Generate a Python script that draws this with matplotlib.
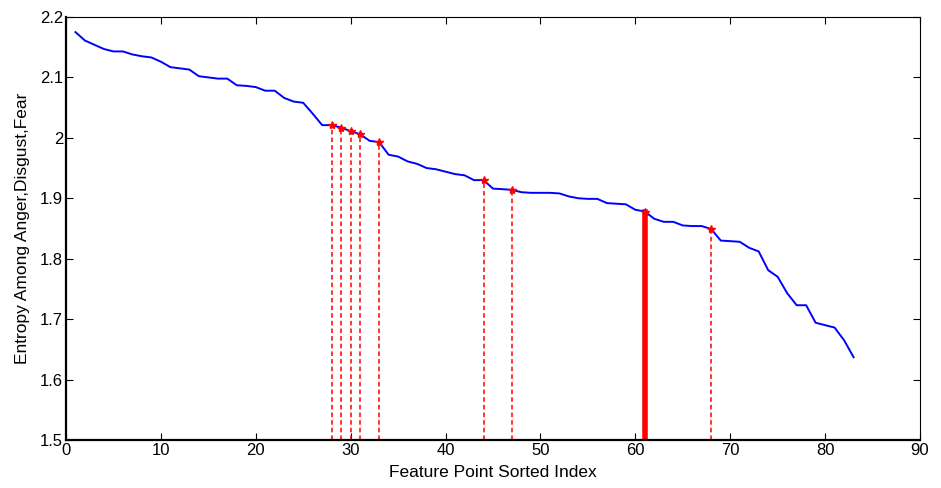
import numpy as np
import matplotlib
matplotlib.use('Agg')
import matplotlib.pyplot as plt
from matplotlib.ticker import FuncFormatter

plt.rcParams['font.family'] = ['Liberation Sans', 'DejaVu Sans']

# entropy values for sorted feature points 1..83
entropy = [2.175, 2.161, 2.154, 2.147, 2.143, 2.143, 2.138, 2.135, 2.133, 2.126,
           2.117, 2.115, 2.113, 2.102, 2.100, 2.098, 2.098, 2.087, 2.086, 2.084,
           2.078, 2.078, 2.066, 2.060, 2.058, 2.040, 2.021, 2.021, 2.017, 2.011,
           2.006, 1.995, 1.993, 1.972, 1.969, 1.961, 1.957, 1.950, 1.948, 1.944,
           1.940, 1.938, 1.930, 1.930, 1.916, 1.915, 1.914, 1.910, 1.909, 1.909,
           1.909, 1.908, 1.903, 1.900, 1.899, 1.899, 1.892, 1.891, 1.890, 1.881,
           1.878, 1.866, 1.861, 1.861, 1.855, 1.854, 1.854, 1.849, 1.830, 1.829,
           1.828, 1.818, 1.812, 1.781, 1.770, 1.743, 1.723, 1.723, 1.694, 1.690,
           1.686, 1.665, 1.637]
index = np.arange(1, len(entropy) + 1)

# selected feature points
selected = [28, 29, 30, 31, 33, 44, 47, 68]
selected_thick = [61]

fig = plt.figure(figsize=(9.41, 4.88), dpi=100)
ax = fig.add_axes([0.0701, 0.0984, 0.9076, 0.8668])

ax.plot(index, entropy, color='blue', linewidth=1.4, zorder=3)

for s in selected:
    v = entropy[s - 1]
    ax.plot([s, s], [1.5, v], color='red', linestyle='--', linewidth=1.1,
            dashes=(3, 2), zorder=2)
    ax.plot(s, v, marker='*', color='red', markersize=6, zorder=4)
for s in selected_thick:
    v = entropy[s - 1]
    ax.plot([s, s], [1.5, v], color='red', linestyle='-', linewidth=4, zorder=2)
    ax.plot(s, v, marker='*', color='red', markersize=6, zorder=4)

ax.set_xlim(0, 90)
ax.set_ylim(1.5, 2.2)
ax.set_xticks(np.arange(0, 91, 10))
ax.set_yticks(np.arange(1.5, 2.21, 0.1))
ax.yaxis.set_major_formatter(FuncFormatter(lambda v, p: '%g' % round(v, 2)))
ax.tick_params(direction='in', top=True, right=True, labelsize=12, length=5, pad=2)
for side in ['left', 'bottom']:
    ax.spines[side].set_linewidth(1.6)
ax.set_xlabel('Feature Point Sorted Index', fontsize=12.5, labelpad=5)
ax.set_ylabel('Entropy Among Anger,Disgust,Fear', fontsize=12.5, labelpad=7)

plt.savefig('out.png', dpi=100)
